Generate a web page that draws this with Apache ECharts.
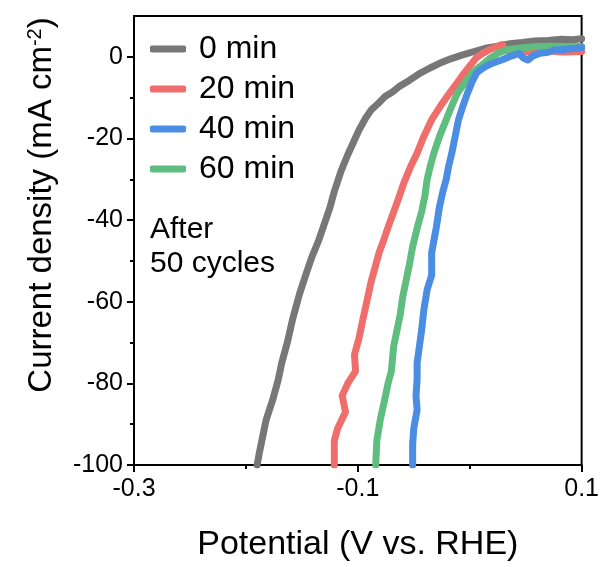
<!DOCTYPE html>
<html>
<head>
<meta charset="utf-8">
<script src="https://cdn.jsdelivr.net/npm/echarts@6/dist/echarts.min.js"></script>
<style>
  html, body { margin: 0; padding: 0; background: #fff; }
  #chart { width: 602px; height: 567px; }
</style>
</head>
<body>
<div id="chart"></div>
<script>
const seriesNames = ['0 min', '20 min', '40 min', '60 min']
const xMajorTicks = [-0.3, -0.1, 0.1]
const xMinorTicks = [-0.2, 0]
const yMajorTicks = [-100, -80, -60, -40, -20, 0]
const yMinorTicks = [-90, -70, -50, -30, -10]

// [potential (V), current density (mA cm-2)]
const data0min = [
  [-0.190, -100], [-0.188, -97], [-0.185, -93], [-0.182, -89], [-0.176, -84],
  [-0.171, -79], [-0.168, -75], [-0.163, -70], [-0.158, -64], [-0.152, -58],
  [-0.146, -53], [-0.141, -49], [-0.135, -45], [-0.130, -41], [-0.125, -37],
  [-0.121, -33], [-0.115, -28], [-0.109, -24], [-0.104, -21], [-0.099, -18],
  [-0.093, -15], [-0.088, -13], [-0.082, -11.5], [-0.076, -9.8], [-0.069, -8.6],
  [-0.063, -7.3], [-0.054, -5.8], [-0.045, -4.1], [-0.036, -2.8], [-0.027, -1.6],
  [-0.017, -0.5], [-0.007, 0.4], [0.004, 1.3], [0.014, 2.1], [0.025, 2.6],
  [0.036, 3.2], [0.047, 3.5], [0.058, 3.9], [0.070, 4.0], [0.082, 4.3],
  [0.092, 4.2], [0.100, 4.4]
]
const data20min = [
  [-0.121, -100], [-0.121, -94], [-0.118, -91], [-0.111, -87], [-0.114, -83],
  [-0.109, -80], [-0.102, -77], [-0.103, -73], [-0.099, -69], [-0.096, -65],
  [-0.092, -60], [-0.088, -55], [-0.084, -51], [-0.081, -48], [-0.077, -45],
  [-0.072, -41], [-0.068, -38], [-0.064, -35], [-0.059, -31], [-0.053, -27],
  [-0.047, -23.6], [-0.041, -19.5], [-0.034, -15.4], [-0.026, -12], [-0.018, -8.9],
  [-0.011, -6.3], [-0.005, -4], [0.001, -1.9], [0.006, -0.2], [0.012, 0.9],
  [0.018, 1.8], [0.024, 2.5], [0.029, 3.0], [0.031, 1.6], [0.040, 1.4],
  [0.055, 1.2], [0.070, 1.4], [0.085, 1.2], [0.100, 1.3]
]
const data40min = [
  [-0.051, -100], [-0.051, -95], [-0.050, -91], [-0.047, -86.5], [-0.048, -83],
  [-0.047, -79], [-0.047, -75], [-0.045, -71], [-0.043, -67], [-0.041, -62],
  [-0.038, -57], [-0.034, -53.5], [-0.034, -48], [-0.032, -45], [-0.030, -42],
  [-0.027, -36.7], [-0.024, -33], [-0.021, -30], [-0.019, -27], [-0.016, -23.6],
  [-0.013, -19.5], [-0.010, -15.4], [-0.006, -12], [-0.002, -8.9], [0.002, -6.2],
  [0.006, -4], [0.010, -3.1], [0.014, -2.4], [0.021, -1.5], [0.029, -0.7],
  [0.036, 0.1], [0.044, 0.8], [0.048, -0.3], [0.052, -0.8], [0.057, 0.3],
  [0.063, 0.9], [0.070, 1.1], [0.076, 1.7], [0.083, 1.8], [0.091, 2.0],
  [0.100, 2.2]
]
const data60min = [
  [-0.084, -100], [-0.083, -94], [-0.080, -89], [-0.076, -84], [-0.073, -80],
  [-0.070, -77], [-0.068, -71], [-0.065, -67], [-0.062, -63], [-0.060, -59],
  [-0.057, -55], [-0.054, -51], [-0.051, -46.5], [-0.047, -42], [-0.043, -38],
  [-0.040, -34], [-0.038, -30], [-0.035, -26.5], [-0.032, -23.6], [-0.027, -19.5],
  [-0.021, -15.4], [-0.016, -12], [-0.011, -8.9], [-0.004, -6.2], [0.002, -4],
  [0.007, -2.8], [0.011, -2.0], [0.018, -0.4], [0.026, 1.0], [0.033, 1.7],
  [0.040, 2.0], [0.050, 2.3], [0.059, 2.5], [0.070, 2.6], [0.085, 2.5],
  [0.100, 2.5]
]

const colors = ['#777777', '#ef6e6b', '#4a8de3', '#5fbd7f']
const seriesData = [data0min, data20min, data40min, data60min]
const zOrder = [2, 3, 5, 4]

const font = 'Arial, "Liberation Sans", sans-serif'

const chart = echarts.init(document.getElementById('chart'))

const option = {
  backgroundColor: '#fff',
  animation: false,
  grid: {
    left: 134,
    top: 16,
    width: 449,
    height: 449,
    show: true,
    borderColor: '#000',
    borderWidth: 2,
    backgroundColor: 'transparent'
  },
  legend: {
    orient: 'vertical',
    left: 150,
    top: 33,
    padding: 0,
    icon: 'roundRect',
    itemWidth: 36,
    itemHeight: 7,
    itemGap: 8,
    data: seriesNames,
    textStyle: {
      fontFamily: font,
      fontSize: 32,
      color: '#000',
      padding: [0, 0, 0, 8]
    }
  },
  xAxis: [
    {
      type: 'value',
      min: -0.3,
      max: 0.1,
      name: 'Potential (V vs. RHE)',
      nameLocation: 'middle',
      nameGap: 63,
      nameTextStyle: { fontFamily: font, fontSize: 34, color: '#000' },
      axisLine: { onZero: false, lineStyle: { color: '#000', width: 2 } },
      axisTick: { customValues: xMajorTicks, length: 7, lineStyle: { color: '#000', width: 2 } },
      axisLabel: {
        customValues: xMajorTicks,
        margin: 12,
        fontFamily: font,
        fontSize: 25,
        color: '#000',
        formatter: v => String(Math.round(v * 10) / 10)
      },
      splitLine: { show: false }
    },
    {
      type: 'value',
      min: -0.3,
      max: 0.1,
      position: 'bottom',
      axisLine: { show: false, onZero: false },
      axisTick: { customValues: xMinorTicks, length: 4, lineStyle: { color: '#000', width: 2 } },
      axisLabel: { show: false },
      splitLine: { show: false }
    }
  ],
  yAxis: [
    {
      type: 'value',
      min: -100,
      max: 10,
      axisLine: { onZero: false, lineStyle: { color: '#000', width: 2 } },
      axisTick: { customValues: yMajorTicks, length: 7, lineStyle: { color: '#000', width: 2 } },
      axisLabel: {
        customValues: yMajorTicks,
        margin: 11,
        fontFamily: font,
        fontSize: 25,
        color: '#000'
      },
      splitLine: { show: false }
    },
    {
      type: 'value',
      min: -100,
      max: 10,
      position: 'left',
      axisLine: { show: false, onZero: false },
      axisTick: { customValues: yMinorTicks, length: 4, lineStyle: { color: '#000', width: 2 } },
      axisLabel: { show: false },
      splitLine: { show: false }
    }
  ],
  graphic: [
    {
      type: 'text',
      x: 42,
      y: 205,
      rotation: Math.PI / 2,
      style: {
        text: 'Current density (mA cm{sup|-2})',
        fontFamily: font,
        fontSize: 33,
        fill: '#000',
        align: 'center',
        verticalAlign: 'middle',
        rich: {
          sup: { fontFamily: font, fontSize: 20, verticalAlign: 'top', padding: [0, 0, 14, 0] }
        }
      }
    },
    {
      type: 'text',
      left: 150,
      top: 213,
      style: {
        text: 'After\n50 cycles',
        fontFamily: font,
        fontSize: 30,
        lineHeight: 34,
        fill: '#000'
      }
    }
  ],
  series: seriesNames.map((name, i) => ({
    name: name,
    type: 'line',
    data: seriesData[i],
    showSymbol: false,
    symbol: 'none',
    z: zOrder[i],
    color: colors[i],
    lineStyle: { width: 7, color: colors[i], cap: 'round', join: 'round' }
  }))
}

chart.setOption(option)
</script>
</body>
</html>
